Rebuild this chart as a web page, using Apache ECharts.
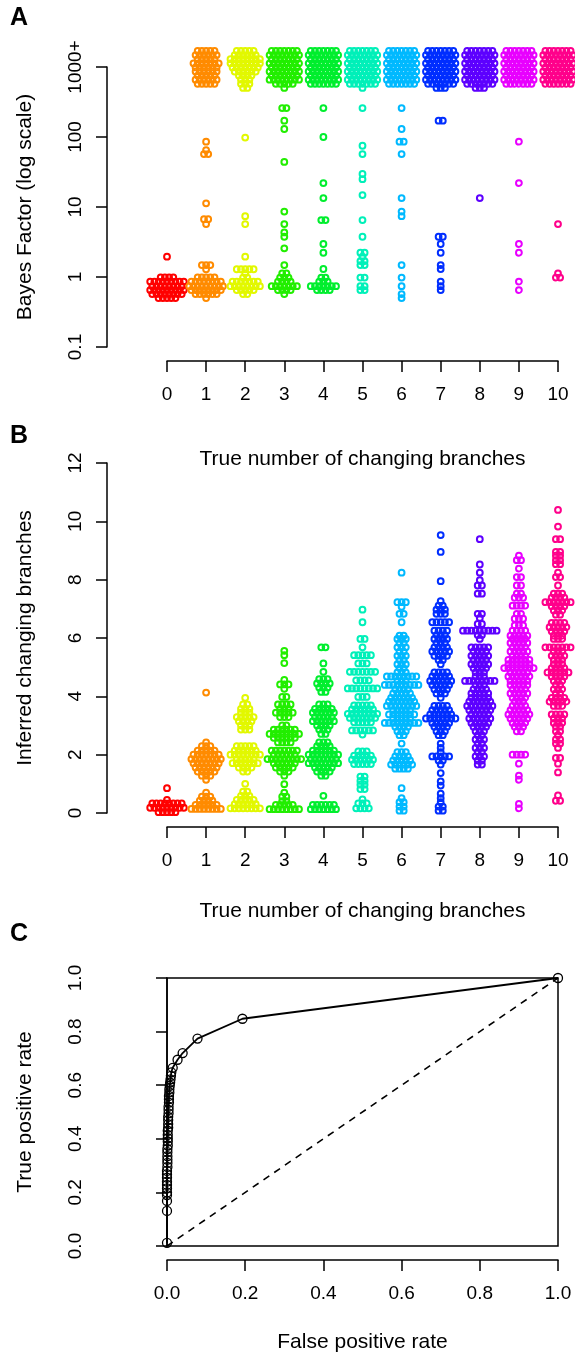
<!DOCTYPE html>
<html>
  <head>
    <meta charset="UTF-8" />
    <title>Branch detection</title>
    <script src="https://cdn.jsdelivr.net/npm/echarts@6/dist/echarts.min.js"></script>
    <style>
      body { margin: 0; padding: 0; background: #fff; }
      #main { width: 575px; height: 1354px; }
    </style>
  </head>
  <body>
    <div id="main"></div>
    <script type="text/javascript">
      // x categories (true number of changing branches)
      var trueCounts = ["0", "1", "2", "3", "4", "5", "6", "7", "8", "9", "10"];
      var groupColors = ["#FF0000", "#FF8B00", "#E2F800", "#22EE00", "#00EE2E", "#00F0B9",
                         "#00B9FF", "#002EFF", "#5D00FF", "#E800FF", "#FF008B"];

      // panel A: Bayes factors, rows of [value, count]
      var bfTickLabels = ["0.1", "1", "10", "100", "1000+"];
      var capLevels = [1693, 1479, 1292, 1129, 986, 862, 753, 658, 575, 503];
      var capCounts = [
        [0, 0, 0, 0, 0, 0, 0, 0, 0, 0],
        [5, 6, 5, 7, 6, 6, 5, 6, 5, 0],
        [5, 6, 8, 8, 7, 6, 4, 3, 3, 2],
        [7, 8, 7, 8, 7, 8, 7, 8, 5, 1],
        [7, 8, 7, 8, 7, 8, 7, 8, 7, 0],
        [7, 8, 7, 8, 7, 8, 7, 8, 7, 1],
        [7, 8, 7, 8, 7, 8, 7, 8, 7, 0],
        [7, 8, 7, 8, 7, 8, 7, 8, 7, 3],
        [7, 8, 7, 8, 7, 8, 7, 8, 7, 3],
        [7, 8, 7, 8, 7, 8, 7, 8, 7, 0],
        [7, 8, 7, 8, 7, 8, 7, 8, 7, 0]
      ];
      var bf0 = [[1.95, 1], [0.99, 4], [0.86, 9], [0.74, 8], [0.65, 9], [0.57, 8], [0.5, 5]];
      var bf1 = [[85.7, 1], [65, 1], [57, 2], [11.3, 1], [6.7, 2], [5.7, 1], [1.48, 3], [1.29, 1],
                 [0.99, 5], [0.86, 8], [0.74, 9], [0.65, 8], [0.57, 6], [0.5, 1]];
      var bf2 = [[98, 1], [7.4, 1], [5.7, 1], [1.95, 1], [1.29, 5], [1.13, 1], [0.98, 2], [0.86, 7],
                 [0.74, 8], [0.65, 5], [0.57, 2]];
      var bf3 = [[259, 2], [171, 1], [130, 1], [44, 1], [8.6, 1], [5.7, 1], [4.34, 1], [3.76, 1],
                 [2.57, 1], [1.48, 1], [1.13, 2], [0.98, 3], [0.86, 4], [0.74, 7], [0.65, 4], [0.57, 1]];
      var bf4 = [[259, 1], [100, 1], [22, 1], [13.4, 1], [6.5, 2], [2.96, 1], [2.22, 1], [1.3, 1],
                 [0.98, 2], [0.86, 3], [0.74, 7], [0.65, 4]];
      var bf5 = [[259, 1], [75, 1], [57, 1], [29.6, 1], [25, 1], [14.8, 1], [6.5, 1], [3.76, 1],
                 [2.22, 2], [1.95, 1], [1.69, 2], [1.48, 2], [0.98, 2], [0.74, 2], [0.65, 2]];
      var bf6 = [[259, 1], [130, 1], [85.7, 2], [57, 1], [13.4, 1], [8.6, 1], [7.4, 1], [1.48, 1],
                 [0.98, 1], [0.74, 1], [0.57, 1], [0.5, 1]];
      var bf7 = [[171, 2], [3.76, 2], [2.96, 1], [2.22, 1], [1.48, 1], [1.3, 1], [0.86, 1], [0.74, 1], [0.65, 1]];
      var bf8 = [[13.4, 1]];
      var bf9 = [[85.7, 1], [22, 1], [2.96, 1], [2.22, 1], [0.86, 1], [0.65, 1]];
      var bf10 = [[5.7, 1], [1.13, 1], [0.98, 2]];
      var bfGroups = [bf0, bf1, bf2, bf3, bf4, bf5, bf6, bf7, bf8, bf9, bf10];

      // panel B: inferred number of changing branches, rows of [value, count]
      var ib0 = [[0.85, 1], [0.45, 1], [0.33, 8], [0.18, 9], [0.03, 5]];
      var ib1 = [[4.13, 1], [2.42, 1], [2.29, 3], [2.14, 5], [2.0, 7], [1.85, 8], [1.71, 7], [1.56, 6],
                 [1.42, 5], [1.28, 3], [1.14, 1], [0.7, 1], [0.56, 3], [0.42, 4], [0.28, 6], [0.14, 8]];
      var ib2 = [[3.95, 1], [3.72, 2], [3.57, 3], [3.44, 3], [3.29, 5], [3.15, 4], [3.0, 3], [2.86, 3],
                 [2.29, 5], [2.14, 6], [2.0, 8], [1.85, 5], [1.71, 7], [1.56, 4], [1.42, 2], [1.0, 1],
                 [0.73, 2], [0.59, 3], [0.45, 5], [0.3, 6], [0.16, 8]];
      var ib3 = [[5.56, 1], [5.41, 1], [5.14, 1], [4.56, 1], [4.41, 3], [4.26, 1], [3.98, 2], [3.72, 4],
                 [3.57, 3], [3.44, 5], [3.29, 3], [3.0, 2], [2.86, 6], [2.71, 8], [2.58, 6], [2.42, 4],
                 [2.14, 7], [2.0, 6], [1.85, 9], [1.71, 6], [1.56, 5], [1.42, 3], [1.28, 1], [0.99, 1],
                 [0.7, 1], [0.56, 2], [0.41, 2], [0.28, 5], [0.13, 8]];
      var ib4 = [[5.68, 2], [5.13, 1], [4.84, 1], [4.59, 3], [4.44, 4], [4.3, 3], [4.15, 2], [3.72, 3],
                 [3.57, 5], [3.44, 6], [3.29, 5], [3.15, 6], [3.0, 4], [2.86, 3], [2.71, 2], [2.42, 3],
                 [2.29, 4], [2.14, 6], [2.0, 8], [1.85, 7], [1.71, 8], [1.56, 5], [1.42, 4], [1.28, 2],
                 [0.59, 1], [0.28, 6], [0.13, 7]];
      var ib5 = [[6.97, 1], [6.54, 1], [5.97, 2], [5.68, 1], [5.41, 5], [5.13, 3], [4.84, 7], [4.55, 4],
                 [4.27, 8], [3.98, 3], [3.69, 5], [3.55, 6], [3.4, 8], [3.26, 7], [3.11, 5], [2.83, 6],
                 [2.69, 1], [2.11, 3], [1.97, 5], [1.83, 6], [1.68, 5], [1.25, 2], [1.1, 2], [0.97, 2],
                 [0.82, 2], [0.47, 1], [0.33, 3], [0.16, 4]];
      var ib6 = [[8.24, 1], [7.23, 3], [7.07, 1], [6.83, 2], [6.54, 1], [6.08, 2], [5.97, 3], [5.83, 2],
                 [5.68, 3], [5.53, 2], [5.39, 3], [5.25, 2], [5.1, 3], [4.97, 2], [4.82, 3], [4.68, 8],
                 [4.53, 3], [4.39, 9], [4.24, 4], [4.1, 5], [3.95, 6], [3.82, 7], [3.67, 8], [3.53, 5],
                 [3.38, 7], [3.24, 5], [3.09, 9], [2.96, 4], [2.8, 3], [2.67, 2], [2.38, 1], [2.09, 3],
                 [1.94, 4], [1.8, 5], [1.66, 6], [1.52, 4], [0.85, 1], [0.51, 1], [0.37, 2], [0.22, 2], [0.08, 2]];
      var ib7 = [[9.53, 1], [8.95, 1], [7.95, 1], [7.26, 1], [7.11, 2], [6.97, 3], [6.83, 3], [6.54, 5],
                 [6.25, 4], [6.1, 3], [5.97, 4], [5.83, 3], [5.68, 4], [5.54, 5], [5.39, 4], [5.25, 2],
                 [5.1, 1], [4.82, 4], [4.68, 5], [4.53, 6], [4.39, 5], [4.24, 4], [4.1, 3], [3.95, 1],
                 [3.67, 4], [3.53, 5], [3.38, 6], [3.24, 8], [3.09, 5], [2.96, 4], [2.8, 3], [2.67, 2],
                 [2.38, 1], [2.23, 1], [2.09, 1], [1.94, 5], [1.8, 2], [1.66, 1], [1.37, 1], [1.08, 1],
                 [0.94, 1], [0.66, 1], [0.51, 1], [0.37, 1], [0.22, 2], [0.08, 2]];
      var ib8 = [[9.39, 1], [8.52, 1], [8.24, 1], [7.98, 1], [7.8, 2], [7.52, 2], [6.83, 2], [6.69, 1],
                 [6.48, 2], [6.25, 9], [6.1, 2], [5.97, 1], [5.68, 5], [5.54, 4], [5.39, 5], [5.25, 4],
                 [5.1, 5], [4.97, 4], [4.82, 3], [4.68, 3], [4.53, 8], [4.39, 3], [4.24, 4], [4.1, 5],
                 [3.95, 5], [3.82, 6], [3.67, 7], [3.53, 6], [3.38, 5], [3.24, 6], [3.09, 5], [2.96, 4],
                 [2.8, 3], [2.67, 2], [2.52, 3], [2.38, 2], [2.23, 3], [2.09, 2], [1.94, 3], [1.8, 2], [1.66, 2]];
      var ib9 = [[8.82, 1], [8.67, 2], [8.38, 1], [8.09, 2], [7.8, 2], [7.52, 2], [7.38, 3], [7.11, 4],
                 [6.83, 2], [6.66, 3], [6.43, 3], [6.25, 4], [6.08, 5], [5.97, 4], [5.83, 5], [5.68, 4],
                 [5.54, 5], [5.39, 4], [5.25, 6], [5.1, 6], [4.97, 8], [4.82, 5], [4.68, 6], [4.53, 5],
                 [4.39, 5], [4.24, 4], [4.1, 5], [3.95, 4], [3.82, 3], [3.67, 4], [3.53, 5], [3.38, 6],
                 [3.24, 5], [3.09, 4], [2.96, 3], [2.8, 2], [2.0, 4], [1.69, 1], [1.28, 1], [1.14, 1],
                 [0.31, 1], [0.16, 1]];
      var ib10 = [[10.39, 1], [9.82, 1], [9.39, 2], [8.95, 2], [8.82, 2], [8.67, 2], [8.53, 2], [8.24, 1],
                  [8.09, 2], [7.8, 1], [7.52, 3], [7.38, 4], [7.23, 7], [7.09, 4], [6.94, 3], [6.8, 2],
                  [6.52, 4], [6.37, 5], [6.23, 4], [6.08, 3], [5.97, 3], [5.68, 7], [5.54, 3], [5.39, 4],
                  [5.25, 3], [5.1, 3], [4.97, 4], [4.82, 6], [4.68, 4], [4.53, 3], [4.39, 2], [4.24, 3],
                  [4.1, 2], [3.95, 4], [3.82, 5], [3.67, 3], [3.38, 4], [3.24, 3], [3.09, 3], [2.96, 2],
                  [2.8, 2], [2.67, 1], [2.52, 2], [2.38, 2], [2.23, 1], [1.89, 2], [1.69, 1], [1.39, 1],
                  [0.6, 1], [0.42, 2]];
      var ibGroups = [ib0, ib1, ib2, ib3, ib4, ib5, ib6, ib7, ib8, ib9, ib10];

      // panel C: ROC curve
      var rocFpr = [0, 0, 0, 0, 0, 0, 0, 0, 0, 0, 0, 0.001, 0.001, 0.001, 0.001, 0.001, 0.001, 0.002,
                    0.002, 0.002, 0.002, 0.002, 0.003, 0.003, 0.003, 0.003, 0.004, 0.004, 0.004, 0.005,
                    0.005, 0.005, 0.006, 0.006, 0.007, 0.008, 0.009, 0.01, 0.011, 0.0146, 0.027, 0.04,
                    0.078, 0.193, 1.0];
      var rocTpr = [0.012, 0.131, 0.168, 0.19, 0.2, 0.215, 0.228, 0.24, 0.255, 0.268, 0.28, 0.295, 0.31,
                    0.322, 0.335, 0.35, 0.362, 0.375, 0.39, 0.402, 0.415, 0.43, 0.442, 0.455, 0.47, 0.482,
                    0.495, 0.508, 0.52, 0.535, 0.548, 0.56, 0.573, 0.585, 0.598, 0.61, 0.622, 0.635, 0.648,
                    0.665, 0.695, 0.72, 0.774, 0.848, 1.0];
      var chanceLine = [[0, 0], [1, 1]];

      var FONT = "'Liberation Sans', Arial, sans-serif";
      var SPACING = 4.2;

      // rows -> [group, value, count]
      var bfData = [];
      bfGroups.forEach(function (rows, g) {
        capLevels.forEach(function (lv, k) {
          if (capCounts[g][k] > 0) bfData.push([g, lv, capCounts[g][k]]);
        });
        rows.forEach(function (r) { bfData.push([g, r[0], r[1]]); });
      });
      var ibData = [];
      ibGroups.forEach(function (rows, g) {
        rows.forEach(function (r) { ibData.push([g, r[0], r[1]]); });
      });

      function swarmItem(params, api) {
        var g = api.value(0), n = api.value(2);
        var c = api.coord([g, api.value(1)]);
        var kids = [];
        for (var i = 0; i < n; i++) {
          kids.push({
            type: "circle",
            shape: { cx: c[0] + (i - (n - 1) / 2) * SPACING, cy: c[1], r: 2.9 },
            style: { fill: "none", stroke: groupColors[g], lineWidth: 2.0 }
          });
        }
        return { type: "group", children: kids };
      }

      var tickFont = { color: "#000", fontSize: 19, fontFamily: FONT };

      function yAx(extra) {
        var base = {
          position: "left",
          offset: 60,
          axisLine: { show: true, lineStyle: { color: "#000", width: 1.5 } },
          axisTick: { show: true, length: 11, lineStyle: { color: "#000", width: 1.5 } },
          axisLabel: Object.assign({ rotate: 90, margin: 22 }, tickFont),
          splitLine: { show: false },
          nameLocation: "middle",
          nameGap: 71,
          nameTextStyle: { color: "#000", fontSize: 21, fontFamily: FONT }
        };
        return Object.assign(base, extra);
      }
      function xAx(extra) {
        var base = {
          position: "bottom",
          offset: 14,
          axisLine: { show: true, onZero: false, lineStyle: { color: "#000", width: 1.5 } },
          axisTick: { show: true, length: 11, lineStyle: { color: "#000", width: 1.5 } },
          axisLabel: Object.assign({ margin: 24 }, tickFont),
          splitLine: { show: false },
          nameLocation: "middle",
          nameTextStyle: { color: "#000", fontSize: 21, fontFamily: FONT }
        };
        return Object.assign(base, extra);
      }

      var chart = echarts.init(document.getElementById("main"));
      var option = {
        animation: false,
        backgroundColor: "#fff",
        textStyle: { fontFamily: FONT },
        graphic: [
          { type: "text", left: 10, top: 6, style: { text: "A", font: "bold 25px " + FONT, fill: "#000" } },
          { type: "text", left: 10, top: 424, style: { text: "B", font: "bold 25px " + FONT, fill: "#000" } },
          { type: "text", left: 10, top: 922, style: { text: "C", font: "bold 25px " + FONT, fill: "#000" } }
        ],
        grid: [
          { left: 167, right: 17, top: 67, height: 280 },
          { left: 167, right: 17, top: 463, height: 350 },
          { left: 167, right: 17, top: 978, height: 268, show: true, borderColor: "#000", borderWidth: 1.5 }
        ],
        xAxis: [
          xAx({ gridIndex: 0, type: "category", data: trueCounts, boundaryGap: false,
                name: "True number of changing branches", nameGap: 88 }),
          xAx({ gridIndex: 1, type: "category", data: trueCounts, boundaryGap: false,
                name: "True number of changing branches", nameGap: 74 }),
          xAx({ gridIndex: 2, type: "value", min: 0, max: 1, interval: 0.2,
                name: "False positive rate", nameGap: 72,
                axisLabel: Object.assign({ margin: 24,
                             formatter: function (v) { return v.toFixed(1); } }, tickFont) })
        ],
        yAxis: [
          yAx({ gridIndex: 0, type: "log", logBase: 10, min: 0.1, max: 1000,
                name: "Bayes Factor (log scale)",
                axisLabel: Object.assign({ rotate: 90, margin: 22,
                             formatter: function (v) { return bfTickLabels[Math.round(Math.log10(v)) + 1]; } }, tickFont) }),
          yAx({ gridIndex: 1, type: "value", min: 0, max: 12, interval: 2,
                name: "Inferred changing branches" }),
          yAx({ gridIndex: 2, type: "value", min: 0, max: 1, interval: 0.2,
                name: "True positive rate",
                axisLabel: Object.assign({ rotate: 90, margin: 22,
                             formatter: function (v) { return v.toFixed(1); } }, tickFont) })
        ],
        series: [
          { type: "custom", xAxisIndex: 0, yAxisIndex: 0, data: bfData, encode: { x: 0, y: 1 },
            renderItem: swarmItem, silent: true },
          { type: "custom", xAxisIndex: 1, yAxisIndex: 1, data: ibData, encode: { x: 0, y: 1 },
            renderItem: swarmItem, silent: true },
          { type: "line", xAxisIndex: 2, yAxisIndex: 2, data: chanceLine, symbol: "none",
            lineStyle: { color: "#000", width: 1.6, type: [7, 6] }, silent: true },
          { type: "line", xAxisIndex: 2, yAxisIndex: 2,
            data: rocFpr.map(function (f, i) { return [f, rocTpr[i]]; }),
            symbol: "circle", symbolSize: 9, showAllSymbol: true,
            itemStyle: { color: "rgba(0,0,0,0)", borderColor: "#000", borderWidth: 1.3 },
            lineStyle: { color: "#000", width: 1.8 }, silent: true }
        ]
      };
      chart.setOption(option);
    </script>
  </body>
</html>
